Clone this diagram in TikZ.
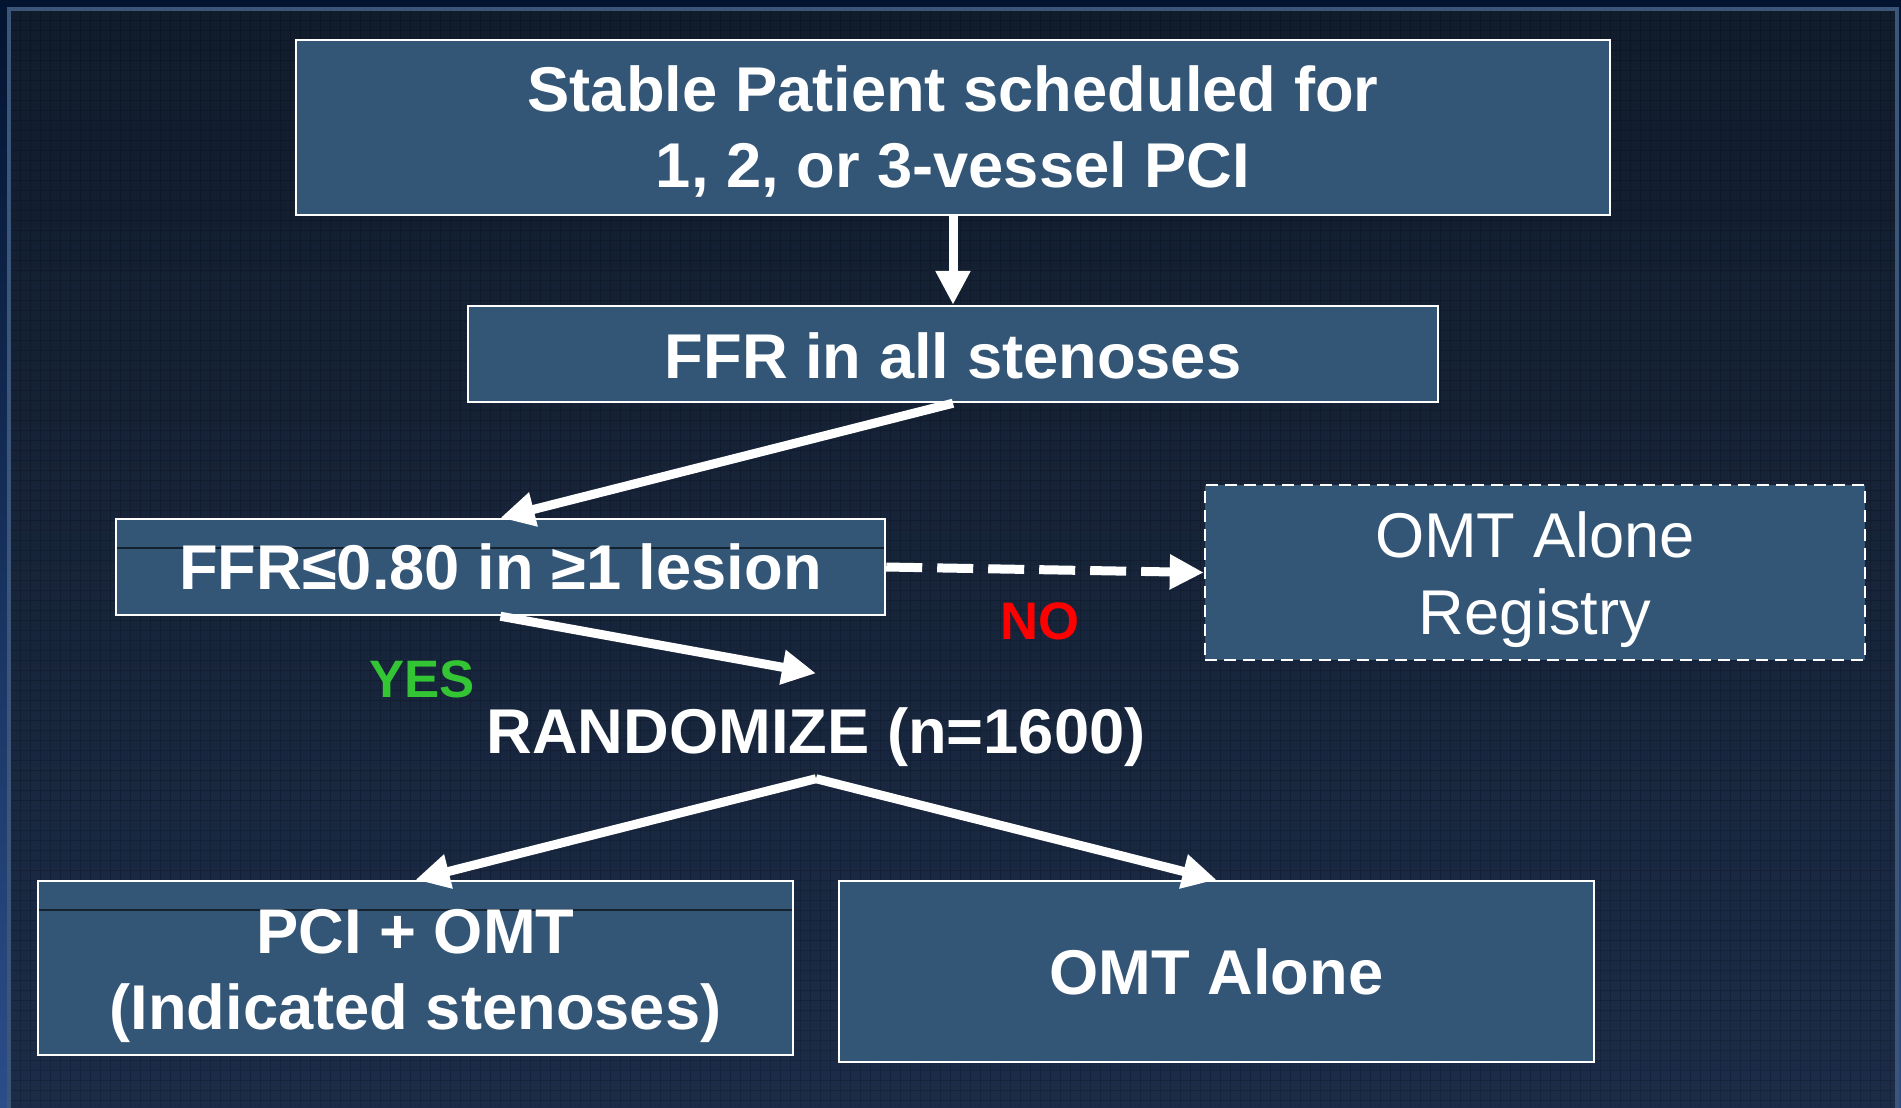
\documentclass[tikz,border=0pt]{standalone}
\usepackage{fontspec}
\setmainfont{Liberation Sans}
\usetikzlibrary{arrows.meta}

\definecolor{slidetop}{HTML}{111C2C}
\definecolor{slidebot}{HTML}{1C2C48}
\definecolor{edgetop}{HTML}{021430}
\definecolor{edgebot}{HTML}{2B4D88}
\definecolor{framecol}{HTML}{3B5679}
\definecolor{boxfill}{HTML}{335677}
\definecolor{yesgreen}{HTML}{33C533}
\definecolor{nored}{HTML}{FF0000}

\newcommand{\toplift}[1]{\rule{0pt}{#1}}

\tikzset{
    stage/.style={draw=white, line width=0.7pt, fill=boxfill, text=white,
        align=center, inner sep=0pt, font=\fontsize{18}{21.8}\selectfont\bfseries},
    optbox/.style={stage, dash pattern=on 1.2mm off 0.7mm,
        font=\fontsize{18}{21.8}\selectfont},
    seamed/.style={path picture={\draw[draw=black!60!boxfill, line width=0.3pt]
        ([yshift=-2.9mm]path picture bounding box.north west) --
        ([yshift=-2.9mm]path picture bounding box.north east);}},
    flow/.style={white, line width=0.9mm, -{Triangle[length=3.4mm,width=3.3mm]}},
    gridline/.style={draw=black, opacity=0.18, line width=0.25pt},
}

\begin{document}
\begin{tikzpicture}
    \useasboundingbox (0,0) rectangle (19.01,-11.07);
    \shade[top color=edgetop, bottom color=edgebot] (0,0) rectangle (19.01,-11.07);
    \shade[top color=slidetop, bottom color=slidebot] (0.085,-0.085) rectangle (18.97,-11.2);
    \draw[gridline, step=1mm] (0.1,-0.1) grid (18.95,-11.07);
    \draw[framecol, line width=0.4mm] (0.085,-11.2) -- (0.085,-0.085) -- (18.97,-0.085) -- (18.97,-11.2);

    \node[stage, minimum width=13.14cm, minimum height=1.75cm] (patient) at (9.53,-1.275)
        {\toplift{5.4mm}Stable Patient scheduled for\\1, 2, or 3-vessel PCI};
    \node[stage, minimum width=9.70cm, minimum height=0.96cm, text height=5mm] (ffrall) at (9.53,-3.54)
        {FFR in all stenoses};
    \node[stage, seamed, minimum width=7.69cm, minimum height=0.96cm] (lesion) at (5.005,-5.67)
        {FFR≤0.80 in ≥1 lesion};
    \node[optbox, minimum width=6.60cm, minimum height=1.75cm] (registry) at (15.35,-5.725)
        {\toplift{6mm}OMT Alone\\Registry};
    \node[text=white, inner sep=0pt, font=\fontsize{18}{21.8}\selectfont\bfseries] (randomize) at (8.16,-7.375)
        {RANDOMIZE (n=1600)};
    \node[stage, seamed, minimum width=7.55cm, minimum height=1.74cm] (pciomt) at (4.155,-9.68)
        {\toplift{6mm}PCI + OMT\\(Indicated stenoses)};
    \node[stage, minimum width=7.55cm, minimum height=1.81cm] (omtonly) at (12.165,-9.715)
        {OMT Alone};
    \node[text=yesgreen, font=\fontsize{15}{18}\selectfont\bfseries] (yes) at (4.22,-6.79) {YES};
    \node[text=nored, font=\fontsize{15}{18}\selectfont\bfseries] (no) at (10.40,-6.21) {NO};

    \draw[flow] (patient.south) -- (ffrall.north);
    \draw[flow] (ffrall.south) -- (lesion.north);
    \draw[flow] (lesion.south) -- ([yshift=3.4mm]randomize.north);
    \draw[flow, dash pattern=on 3.6mm off 1.5mm] (lesion.east) -- (registry.west);
    \draw[flow] ([yshift=-1.1mm]randomize.south) -- (pciomt.north);
    \draw[flow] ([yshift=-1.1mm]randomize.south) -- (omtonly.north);
\end{tikzpicture}
\end{document}
